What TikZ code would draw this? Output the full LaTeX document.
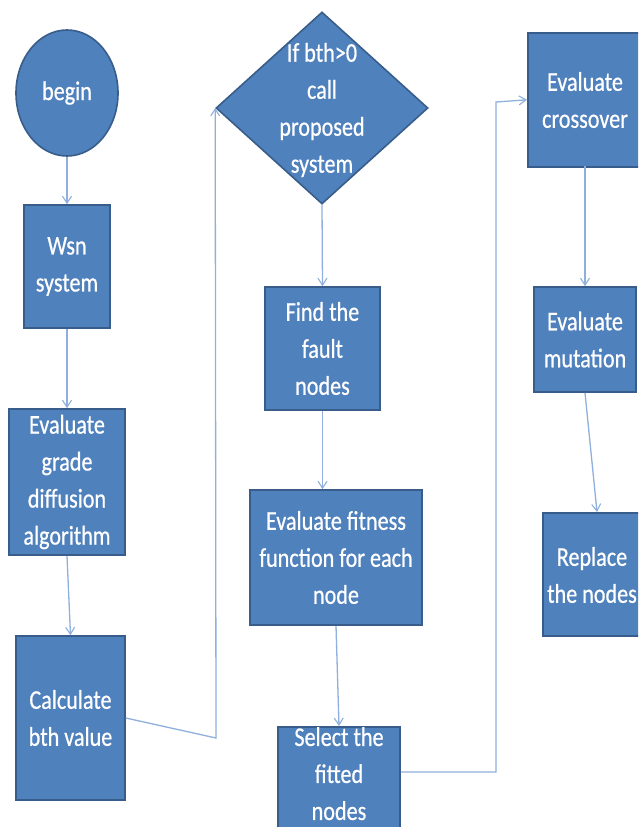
\documentclass[tikz,border=0pt]{standalone}
\usepackage{fontspec}
\setmainfont{Carlito}[FakeStretch=0.82, FakeBold=0.6]
\usetikzlibrary{shapes.geometric,arrows.meta}
\definecolor{boxfill}{HTML}{4F81BD}
\definecolor{boxline}{HTML}{385D8A}
\definecolor{linkblue}{HTML}{8FB0DC}
\tikzset{
  blk/.style={draw=boxline, fill=boxfill, line width=1.6pt, text=white,
    font=\fontsize{27}{37}\selectfont, align=center, inner sep=0pt},
  label/.style={text=white, font=\fontsize{27}{37}\selectfont, align=center, inner sep=0pt},
  link/.style={draw=linkblue, line width=1.3pt},
  arr/.style={link, -{Straight Barb[length=7pt,width=9pt,line width=1.1pt]}}
}
\begin{document}
\begin{tikzpicture}[x=1pt,y=-1pt]
\useasboundingbox (0,0) rectangle (638,827);
\clip (0,0) rectangle (638,827);
\fill[white] (0,0) rectangle (638,827);

% first column
\node[blk, ellipse, minimum width=102pt, minimum height=126pt] (begin) at (67,93) {begin};
\node[blk, minimum width=86pt, minimum height=123pt] (wsn) at (67,266.5) {Wsn\\system};
\node[blk, minimum width=116pt, minimum height=146pt] (grade) at (67,482) {Evaluate\\grade\\diffusion\\algorithm};
\node[blk, minimum width=109pt, minimum height=164pt] (calc) at (70.5,718) {Calculate\\bth value};

% second column
\node[draw=boxline, fill=boxfill, line width=1.6pt, diamond, minimum width=212pt, minimum height=192pt, inner sep=0pt] (dia) at (322,108) {};
\node[label] (diatext) at (322,110) {If bth>0\\call\\proposed\\system};
\node[blk, minimum width=115pt, minimum height=123pt] (fault) at (322.5,348.5) {Find the\\fault\\nodes};
\node[blk, minimum width=172pt, minimum height=135pt] (fit) at (336,557.5) {Evaluate fitness\\function for each\\node};
\node[blk, minimum width=122pt, minimum height=120pt, anchor=north] (sel) at (339,726) {};
\node[label, anchor=north] (seltext) at (339,727) {Select the\\fitted\\nodes};

% third column
\node[blk, minimum width=116pt, minimum height=134pt, anchor=north west] (cross) at (527,32) {};
\node[label] (crosstext) at (585,100) {Evaluate\\crossover};
\node[blk, minimum width=102pt, minimum height=105pt] (mut) at (585,339.5) {Evaluate\\mutation};
\node[blk, minimum width=100pt, minimum height=123pt, anchor=north west] (repl) at (542,512) {};
\node[label] (repltext) at (592,575) {Replace\\the nodes};

% connectors
\draw[arr] (begin.south) -- (wsn.north);
\draw[arr] (wsn.south) -- (grade.north);
\draw[arr] (grade.south) -- (calc.north);
\coordinate (c1) at (216,738);
\draw[arr] (calc.east) -- (c1) -- (dia.west);
\draw[arr] (dia.south) -- (fault.north);
\draw[arr] (fault.south) -- (fault.south |- fit.north);
\draw[arr] (fit.south) -- (sel.north);
\coordinate (c2) at (496,772);
\coordinate (c3) at (496,102);
\draw[arr] (sel.east |- c2) -- (c2) -- (c3) -- (cross.west);
\draw[arr] (585,166) -- (mut.north);
\draw[arr] (mut.south) -- (597,512);
\end{tikzpicture}
\end{document}
